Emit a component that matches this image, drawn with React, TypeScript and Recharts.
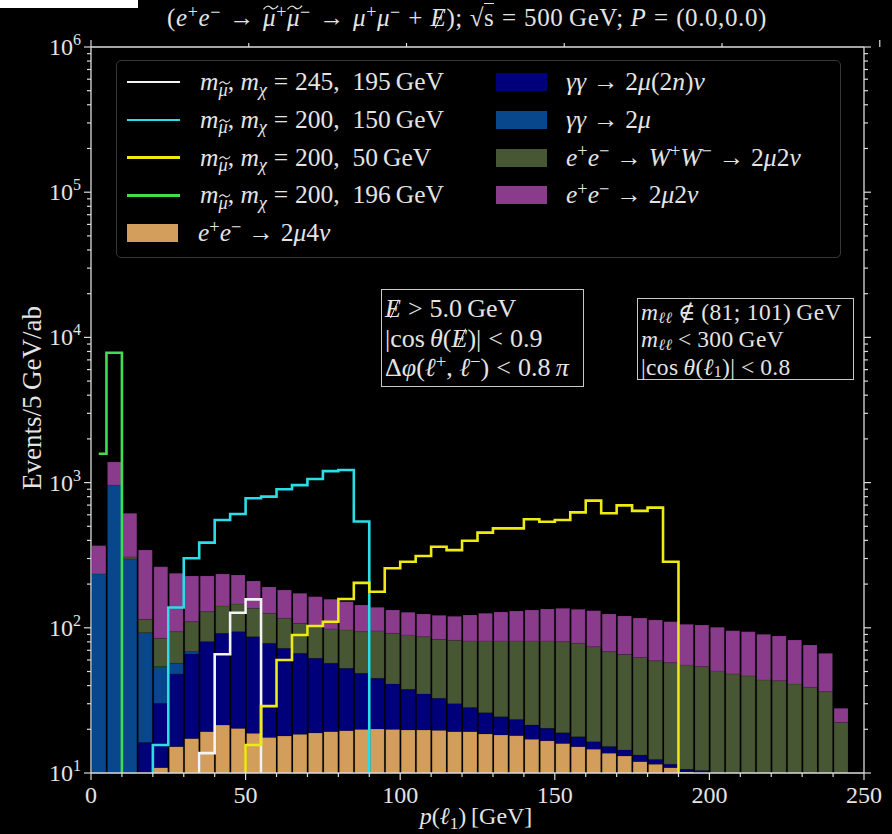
import type { CSSProperties, ReactNode } from "react"
import { ComposedChart, Bar, Line, XAxis, YAxis } from "recharts"

// p(l1) bins, 5 GeV wide
const BIN_CENTER = [
  2.5, 7.5, 12.5, 17.5, 22.5, 27.5, 32.5, 37.5, 42.5, 47.5,
  52.5, 57.5, 62.5, 67.5, 72.5, 77.5, 82.5, 87.5, 92.5, 97.5,
  102.5, 107.5, 112.5, 117.5, 122.5, 127.5, 132.5, 137.5, 142.5, 147.5,
  152.5, 157.5, 162.5, 167.5, 172.5, 177.5, 182.5, 187.5, 192.5, 197.5,
  202.5, 207.5, 212.5, 217.5, 222.5, 227.5, 232.5, 237.5, 242.5, 247.5,
]

// backgrounds, events / 5 GeV / ab (stacked bottom -> top)
const EE_2MU4NU = [
  0, 0, 0, 0, 10.9, 15.2, 17.3, 19.3, 21.4, 20.3,
  18.8, 17.6, 18.0, 18.5, 18.9, 19.3, 19.6, 20.0, 20.1, 20.0,
  19.8, 19.8, 19.7, 19.3, 19.3, 18.6, 18.3, 18.1, 17.1, 16.7,
  16.0, 15.2, 14.6, 13.7, 13.1, 12.0, 11.5, 10.9, 10.2, 9.5,
  0, 0, 0, 0, 0, 0, 0, 0, 0, 0,
]
const GG_2MU2NNU = [
  0, 0, 0, 16.2, 19.3, 32.9, 48.7, 61.0, 70.2, 73.7,
  68.0, 60.6, 54.2, 48.2, 42.8, 37.7, 33.0, 28.6, 24.8, 21.0,
  17.9, 15.2, 13.0, 10.7, 8.9, 7.4, 6.1, 5.3, 4.3, 3.6,
  2.9, 2.6, 1.8, 1.5, 1.3, 1.3, 0.9, 0.6, 0.4, 0.9,
  0, 0, 0, 0, 0, 0, 0, 0, 0, 0,
]
const GG_2MU = [
  235, 963, 298, 76.3, 23.8, 8.8, 2.5, 0, 0, 0,
  0, 0, 0, 0, 0, 0, 0, 0, 0, 0,
  0, 0, 0, 0, 0, 0, 0, 0, 0, 0,
  0, 0, 0, 0, 0, 0, 0, 0, 0, 0,
  0, 0, 0, 0, 0, 0, 0, 0, 0, 0,
]
const EE_WW_2MU2NU = [
  0, 0, 9.6, 21.9, 30.7, 37.1, 41.7, 48.9, 49.7, 51.9,
  49.4, 47.7, 44.1, 40.7, 40.1, 41.2, 44.0, 45.4, 50.2, 50.6,
  51.5, 51.8, 50.4, 52.0, 52.9, 55.1, 56.7, 57.7, 59.7, 60.8,
  61.3, 60.4, 57.7, 53.3, 51.1, 49.1, 46.9, 46.0, 44.8, 43.6,
  50.4, 48.1, 46.6, 43.7, 43.2, 41.0, 38.9, 36.3, 22.3, 0,
]
const EE_2MU2NU = [
  133, 424, 307, 229, 178.8, 143.4, 117.2, 98.3, 93.5, 85.1,
  73.8, 65.1, 65.8, 65.5, 62.0, 59.1, 54.7, 49.6, 43.3, 41.0,
  38.7, 37.7, 38.8, 38.0, 41.4, 44.8, 47.4, 49.4, 51.5, 53.6,
  56.0, 55.9, 57.1, 56.0, 55.1, 54.4, 53.9, 52.7, 50.3, 50.5,
  50.4, 47.4, 47.4, 46.5, 44.6, 41.4, 37.2, 30.4, 5.6, 0,
]

// signal points (smuon mass, neutralino mass)
const SIG_245_195 = [
  0, 0, 0, 0, 0, 0, 0, 13.7, 65.7, 127,
  157, 0, 0, 0, 0, 0, 0, 0, 0, 0,
  0, 0, 0, 0, 0, 0, 0, 0, 0, 0,
  0, 0, 0, 0, 0, 0, 0, 0, 0, 0,
  0, 0, 0, 0, 0, 0, 0, 0, 0, 0,
]
const SIG_200_150 = [
  0, 0, 0, 0, 15.6, 138, 301, 386, 553, 608,
  780, 800, 900, 960, 1060, 1200, 1220, 540, 0, 0,
  0, 0, 0, 0, 0, 0, 0, 0, 0, 0,
  0, 0, 0, 0, 0, 0, 0, 0, 0, 0,
  0, 0, 0, 0, 0, 0, 0, 0, 0, 0,
]
const SIG_200_50 = [
  0, 0, 0, 0, 0, 0, 0, 0, 0, 0,
  15.6, 28.9, 60.0, 89.2, 103, 110, 158, 204, 177, 257,
  285, 312, 362, 343, 398, 452, 484, 484, 559, 538,
  553, 624, 751, 615, 697, 639, 672, 285, 0, 0,
  0, 0, 0, 0, 0, 0, 0, 0, 0, 0,
]
const SIG_200_196 = [
  1581, 7846, 0, 0, 0, 0, 0, 0, 0, 0,
  0, 0, 0, 0, 0, 0, 0, 0, 0, 0,
  0, 0, 0, 0, 0, 0, 0, 0, 0, 0,
  0, 0, 0, 0, 0, 0, 0, 0, 0, 0,
  0, 0, 0, 0, 0, 0, 0, 0, 0, 0,
]

const X_TICKS = [0, 10, 20, 30, 40, 50, 60, 70, 80, 90, 100, 110, 120, 130, 140, 150, 160, 170, 180, 190, 200, 210, 220, 230, 240, 250]
const Y_TICKS: number[] = []
for (let d = 1; d <= 5; d++) for (let m = 1; m <= 9; m++) Y_TICKS.push(m * 10 ** d)
Y_TICKS.push(1e6)

// empty signal bins sit below the axis so the step line drops off the bottom
const FLOOR = 1
const sig = (v: number) => (v > 0 ? v : FLOOR)

const rows = BIN_CENTER.map((x, i) => ({
  x,
  ee4: EE_2MU4NU[i],
  gg2n: GG_2MU2NNU[i],
  gg: GG_2MU[i],
  ww: EE_WW_2MU2NU[i],
  ee2: EE_2MU2NU[i],
  s1: sig(SIG_245_195[i]),
  s2: sig(SIG_200_150[i]),
  s3: sig(SIG_200_50[i]),
  s4: sig(SIG_200_196[i]),
}))

const BG = [
  { key: "ee4", color: "#D39E5C" },
  { key: "gg2n", color: "#00007A" },
  { key: "gg", color: "#08478B" },
  { key: "ww", color: "#475633" },
  { key: "ee2", color: "#8A3B8C" },
]
const SIG = [
  { key: "s1", color: "#f4f4f4" },
  { key: "s2", color: "#2ADDE8" },
  { key: "s3", color: "#EEEA14" },
  { key: "s4", color: "#3EDF4C" },
]

const W = 892
const H = 834
// plot box: x 91..864, y 47..773
const M = { top: 37, right: 18, bottom: 31, left: 21 }

const FG = "#e4e4e4"
const AXIS = "#dcdcdc"
const SERIF = "'Liberation Serif', 'DejaVu Serif', serif"

const isDecade = (v: number) => Math.abs(Math.log10(v) - Math.round(Math.log10(v))) < 1e-9

function tickFor(side: "bottom" | "top" | "left" | "right") {
  return (props: any) => {
    const { x, y, payload } = props
    const v = payload.value as number
    const major = side === "bottom" || side === "top" ? v % 50 === 0 : isDecade(v)
    const len = major ? 7 : 4
    let line: ReactNode
    if (side === "bottom") line = <line x1={x} x2={x} y1={y} y2={y + len} />
    else if (side === "top") line = <line x1={x} x2={x} y1={y} y2={y - len} />
    else if (side === "left") line = <line x1={x} x2={x - len} y1={y} y2={y} />
    else line = <line x1={x} x2={x + len} y1={y} y2={y} />
    return (
      <g stroke={AXIS} strokeWidth={1.2}>
        {line}
        {side === "bottom" && major && (
          <text x={x} y={y + 30} textAnchor="middle" fill={FG} stroke="none" fontSize={24} fontFamily={SERIF}>
            {v}
          </text>
        )}
        {side === "left" && major && (
          <text x={x - 10} y={y + 8} textAnchor="end" fill={FG} stroke="none" fontSize={24} fontFamily={SERIF}>
            10<tspan dy={-10} fontSize={16}>{Math.round(Math.log10(v))}</tspan>
          </text>
        )}
      </g>
    )
  }
}

// offsets that leave the line box alone
const sub: CSSProperties = { fontSize: "0.72em", lineHeight: 1, position: "relative", top: "0.3em" }
const sup: CSSProperties = { fontSize: "0.72em", lineHeight: 1, position: "relative", top: "-0.45em" }
const subTight: CSSProperties = { ...sub, fontSize: "0.68em", top: "0.16em" }

// relation / arrow with math spacing
const R = ({ c, g = 0.27 }: { c: string; g?: number }) => <span style={{ padding: `0 ${g}em` }}>{c}</span>

// E with a slash through it (missing energy)
const Slash = () => (
  <span style={{ position: "relative", display: "inline-block" }}>
    <i>E</i>
    <span
      style={{
        position: "absolute",
        left: "0.36em",
        top: "0.18em",
        width: 1.4,
        height: "0.78em",
        background: "currentColor",
        transform: "rotate(24deg)",
      }}
    />
  </span>
)

// smuon: mu with a wide tilde
const SMu = () => (
  <span style={{ position: "relative", display: "inline-block" }}>
    <i>μ</i>
    <svg
      viewBox="0 0 10 3"
      preserveAspectRatio="none"
      style={{ position: "absolute", left: "0.02em", top: "0.02em", width: "0.62em", height: "0.2em", overflow: "visible" }}
    >
      <path d="M0.3,2.6 C2,0.2 4,0.4 5,1.5 S8,2.8 9.7,0.4" fill="none" stroke="currentColor" strokeWidth={1.2} vectorEffect="non-scaling-stroke" />
    </svg>
  </span>
)

const Masses = ({ a, b }: { a: string; b: string }) => (
  <span>
    <i>m</i>
    <span style={sub}><SMu /></span>, <i>m</i>
    <span style={sub}><i>χ</i></span>
    <R c="=" />
    {a},&nbsp; {b}&thinsp;GeV
  </span>
)

const EPEM = () => (
  <>
    <i>e</i>
    <span style={sup}>+</span>
    <i>e</i>
    <span style={sup}>−</span>
  </>
)

const LEFT_ENTRIES: { color: string; kind: "line" | "patch"; label: ReactNode }[] = [
  { color: SIG[0].color, kind: "line", label: <Masses a="245" b="195" /> },
  { color: SIG[1].color, kind: "line", label: <Masses a="200" b="150" /> },
  { color: SIG[2].color, kind: "line", label: <Masses a="200" b="50" /> },
  { color: SIG[3].color, kind: "line", label: <Masses a="200" b="196" /> },
  { color: BG[0].color, kind: "patch", label: <span><EPEM /><R c="→" />2<i>μ</i>4<i>ν</i></span> },
]
const RIGHT_ENTRIES: { color: string; label: ReactNode }[] = [
  { color: BG[1].color, label: <span><i>γγ</i><R c="→" />2<i>μ</i>(2<i>n</i>)<i>ν</i></span> },
  { color: BG[2].color, label: <span><i>γγ</i><R c="→" />2<i>μ</i></span> },
  {
    color: BG[3].color,
    label: (
      <span>
        <EPEM /><R c="→" /><i>W</i>
        <span style={sup}>+</span>
        <i>W</i>
        <span style={sup}>−</span><R c="→" />2<i>μ</i>2<i>ν</i>
      </span>
    ),
  },
  { color: BG[4].color, label: <span><EPEM /><R c="→" />2<i>μ</i>2<i>ν</i></span> },
]

function LegendBox() {
  const rowY = (i: number) => 21 + i * 37.8
  return (
    <div
      style={{
        position: "absolute",
        left: 116,
        top: 60,
        width: 723,
        height: 196,
        border: "1.5px solid #363636",
        borderRadius: 5,
        background: "#000",
        fontSize: 25.5,
        color: FG,
      }}
    >
      {LEFT_ENTRIES.map((e, i) => (
        <div key={i} style={{ position: "absolute", left: 10, top: rowY(i) - 16, height: 32, display: "flex", alignItems: "center", whiteSpace: "nowrap" }}>
          {e.kind === "line" ? (
            <div style={{ width: 53, height: 2.5, background: e.color }} />
          ) : (
            <div style={{ width: 51, height: 18, background: e.color }} />
          )}
          <div style={{ marginLeft: 20 }}>{e.label}</div>
        </div>
      ))}
      {RIGHT_ENTRIES.map((e, i) => (
        <div key={i} style={{ position: "absolute", left: 379, top: rowY(i) - 16, height: 32, display: "flex", alignItems: "center", whiteSpace: "nowrap" }}>
          <div style={{ width: 51, height: 18, background: e.color }} />
          <div style={{ marginLeft: 19 }}>{e.label}</div>
        </div>
      ))}
    </div>
  )
}

const cutBox = (left: number, top: number, width: number, height: number, lh: number, fs: number): CSSProperties => ({
  position: "absolute",
  left,
  top,
  width,
  height,
  border: "1.5px solid #c8c8c8",
  boxSizing: "border-box",
  padding: "0 3px",
  fontSize: fs,
  lineHeight: `${lh}px`,
  color: FG,
  whiteSpace: "nowrap",
})

export default function App() {
  return (
    <div style={{ position: "absolute", left: 0, top: 0, width: W, height: H, background: "#000", fontFamily: SERIF, overflow: "hidden" }}>
      <div style={{ position: "absolute", left: 0, top: 0, width: 138, height: 8, background: "#fff" }} />
      <ComposedChart width={W} height={H} data={rows} margin={M} barCategoryGap={0} barGap={0}>
        <XAxis
          xAxisId="b"
          dataKey="x"
          type="number"
          domain={[0, 250]}
          allowDataOverflow
          ticks={X_TICKS}
          interval={0}
          height={30}
          tickSize={0}
          tickMargin={0}
          tickLine={false}
          tick={tickFor("bottom")}
          axisLine={{ stroke: AXIS, strokeWidth: 1.3 }}
        />
        <XAxis
          xAxisId="t"
          orientation="top"
          type="number"
          domain={[0, 250]}
          allowDataOverflow
          ticks={X_TICKS}
          interval={0}
          height={10}
          tickSize={0}
          tickMargin={0}
          tickLine={false}
          tick={tickFor("top")}
          axisLine={{ stroke: AXIS, strokeWidth: 1.3 }}
        />
        <YAxis
          yAxisId="l"
          type="number"
          scale="log"
          domain={[10, 1e6]}
          allowDataOverflow
          ticks={Y_TICKS}
          interval={0}
          width={70}
          tickSize={0}
          tickMargin={0}
          tickLine={false}
          tick={tickFor("left")}
          axisLine={{ stroke: AXIS, strokeWidth: 1.3 }}
        />
        <YAxis
          yAxisId="r"
          orientation="right"
          type="number"
          scale="log"
          domain={[10, 1e6]}
          allowDataOverflow
          ticks={Y_TICKS}
          interval={0}
          width={10}
          tickSize={0}
          tickMargin={0}
          tickLine={false}
          tick={tickFor("right")}
          axisLine={{ stroke: AXIS, strokeWidth: 1.3 }}
        />
        {BG.map((b) => (
          <Bar
            key={b.key}
            dataKey={b.key}
            xAxisId="b"
            yAxisId="l"
            stackId="bg"
            fill={b.color}
            stroke="rgba(0,0,0,0.16)"
            strokeWidth={0.7}
            barSize={16}
            isAnimationActive={false}
          />
        ))}
        {SIG.map((s) => (
          <Line
            key={s.key}
            dataKey={s.key}
            xAxisId="b"
            yAxisId="l"
            type="step"
            stroke={s.color}
            strokeWidth={2.6}
            dot={false}
            activeDot={false}
            isAnimationActive={false}
          />
        ))}
      </ComposedChart>

      <div style={{ position: "absolute", left: 467, top: 4, transform: "translateX(-50%)", whiteSpace: "nowrap", fontSize: 25, letterSpacing: 0.6, color: FG }}>
        (<EPEM /><R c="→" g={0.33} /><SMu />
        <span style={sup}>+</span>
        <SMu />
        <span style={sup}>−</span><R c="→" g={0.33} /><i>μ</i>
        <span style={sup}>+</span>
        <i>μ</i>
        <span style={sup}>−</span><R c="+" g={0.3} /><Slash />); √<span style={{ borderTop: `1px solid ${FG}` }}>s</span><R c="=" g={0.3} />500&thinsp;GeV; <i>P</i><R c="=" g={0.3} />(0.0,0.0)
      </div>

      <LegendBox />

      <div style={{ ...cutBox(381, 289, 203, 98, 29.5, 26), paddingTop: 4 }}>
        <div><Slash /><R c=">" />5.0&thinsp;GeV</div>
        <div>|cos&thinsp;<i>θ</i>(<Slash />)|<R c="<" />0.9</div>
        <div>Δ<i>φ</i>(<i>ℓ</i><span style={sup}>+</span>, <i>ℓ</i><span style={sup}>−</span>)<R c="<" />0.8&thinsp;<i>π</i></div>
      </div>
      <div style={{ ...cutBox(637, 298, 217, 82, 27.3, 23.5), letterSpacing: 0.35 }}>
        <div><i>m</i><span style={subTight}><i>ℓℓ</i></span><R c="∉" g={0.24} />(81; 101)&thinsp;GeV</div>
        <div><i>m</i><span style={subTight}><i>ℓℓ</i></span><R c="<" g={0.24} />300&thinsp;GeV</div>
        <div>|cos&thinsp;<i>θ</i>(<i>ℓ</i><span style={subTight}>1</span>)|<R c="<" g={0.24} />0.8</div>
      </div>

      <div style={{ position: "absolute", left: 32, top: 398, transform: "translate(-50%, -50%) rotate(-90deg)", whiteSpace: "nowrap", fontSize: 27, color: FG }}>
        Events/5&thinsp;GeV/ab
      </div>
      <div style={{ position: "absolute", left: 476, top: 816, transform: "translate(-50%, -50%)", whiteSpace: "nowrap", fontSize: 24, lineHeight: "26px", color: FG }}>
        <i>p</i>(<i>ℓ</i><span style={sub}>1</span>)&thinsp;[GeV]
      </div>
    </div>
  )
}
